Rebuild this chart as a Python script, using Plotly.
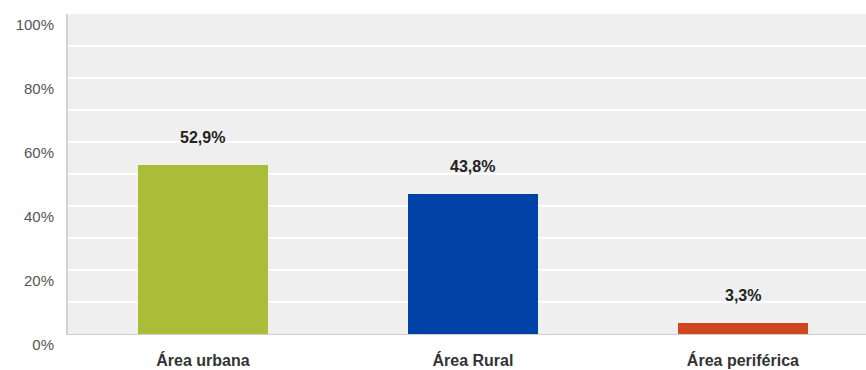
import plotly.graph_objects as go

categories = ["Área urbana", "Área Rural", "Área periférica"]
values = [52.9, 43.8, 3.3]
colors = ["#A9BD38", "#0042A6", "#D0461F"]
y_ticks = [0, 10, 20, 30, 40, 50, 60, 70, 80, 90, 100]
y_tick_text = ["0%", "", "20%", "", "40%", "", "60%", "", "80%", "", "100%"]

xpos = list(range(len(categories)))
font_family = "Liberation Sans, Arial, sans-serif"

fig = go.Figure()
fig.add_trace(go.Bar(
    x=xpos, y=values, marker=dict(color=colors, line=dict(width=0)),
    width=0.48, hoverinfo="skip",
))

for x, v in zip(xpos, values):
    fig.add_annotation(
        x=x, y=v, text="<b>" + f"{v:.1f}".replace(".", ",") + "%</b>",
        showarrow=False, yanchor="bottom", yshift=17,
        font=dict(family=font_family, size=16, color="#222222"),
    )

fig.update_layout(
    width=866, height=370,
    margin=dict(l=68, r=0, t=14, b=36),
    paper_bgcolor="white", plot_bgcolor="#EFEFEF",
    showlegend=False,
    bargap=0,
)
fig.update_xaxes(
    range=[-0.5, 2.456], tickvals=xpos,
    ticktext=["<b>" + c + "</b>" for c in categories],
    tickfont=dict(family=font_family, size=16, color="#333333"),
    showgrid=False, zeroline=False, showline=True, linecolor="#CFCFCF", linewidth=1,
    ticks="", ticklabelstandoff=12,
)
fig.update_yaxes(
    range=[0, 100], tickvals=y_ticks, ticktext=y_tick_text,
    tickfont=dict(family=font_family, size=15, color="#555555"),
    showgrid=True, gridcolor="white", gridwidth=1.5, zeroline=False,
    showline=True, linecolor="#D2D2D2", linewidth=2,
    ticks="", ticklabelposition="outside bottom", ticklabelstandoff=9,
)

fig.write_html("out.html")
